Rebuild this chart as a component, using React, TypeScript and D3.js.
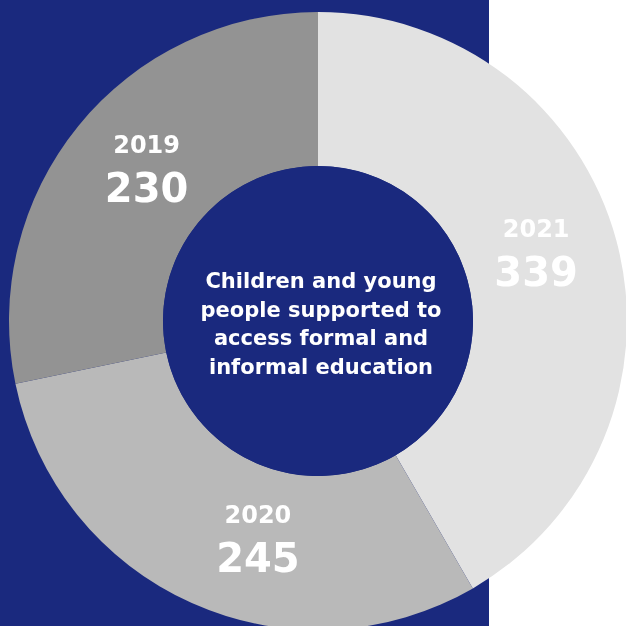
import React from "react";
import * as d3 from "d3";

const years = ["2021", "2020", "2019"];
const values = [339, 245, 230];
const sliceColors = ["#e2e2e2", "#b9b9b9", "#939393"];
const centerLines = [
  "Children and young",
  "people supported to",
  "access formal and",
  "informal education",
];

const W = 626;
const H = 626;
const cx = 318;
const cy = 321;
const outerR = 309;
const innerR = 155;
const blue = "#1a297e";
const labelR = 228;
const labelAngleShift = [-0.033, -0.154, 0.037];
const font = "'DejaVu Sans', sans-serif";

export default function App() {
  const pie = d3.pie<number>().sort(null).value((d) => d);
  const arcs = pie(values);
  const arc = d3.arc<d3.PieArcDatum<number>>().innerRadius(innerR).outerRadius(outerR);

  return (
    <div style={{ position: "fixed", left: 0, top: 0, width: W, height: H }}>
      <svg width={W} height={H} style={{ display: "block" }}>
        <rect x={0} y={0} width={489} height={H} fill={blue} />
        <g transform={`translate(${cx},${cy})`}>
          {arcs.map((a, i) => (
            <path key={years[i]} d={arc(a) || ""} fill={sliceColors[i]} />
          ))}
          <circle r={innerR} fill={blue} />
          {arcs.map((a, i) => {
            const mid = (a.startAngle + a.endAngle) / 2 + labelAngleShift[i];
            const x = Math.sin(mid) * labelR;
            const y = -Math.cos(mid) * labelR;
            return (
              <g key={"l" + years[i]} transform={`translate(${x},${y})`} fill="#fff" textAnchor="middle" fontFamily={font} fontWeight={700}>
                <text y={-18} fontSize={24}>{years[i]}</text>
                <text y={31} fontSize={40}>{values[i]}</text>
              </g>
            );
          })}
          <g fill="#fff" textAnchor="middle" fontFamily={font} fontWeight={700} fontSize={21}>
            {centerLines.map((l, i) => (
              <text key={i} x={3} y={-33 + i * 28.5}>{l}</text>
            ))}
          </g>
        </g>
      </svg>
    </div>
  );
}
